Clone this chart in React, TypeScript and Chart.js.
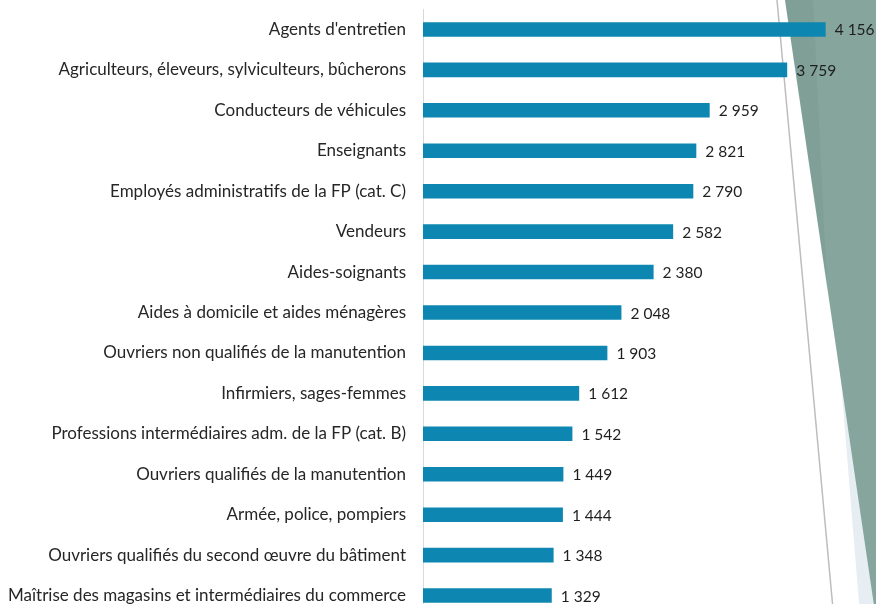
import React, { useEffect, useRef } from "react";
import { Chart, registerables } from "chart.js";

Chart.register(...registerables);

const categories = [
  "Agents d'entretien",
  "Agriculteurs, éleveurs, sylviculteurs, bûcherons",
  "Conducteurs de véhicules",
  "Enseignants",
  "Employés administratifs de la FP (cat. C)",
  "Vendeurs",
  "Aides-soignants",
  "Aides à domicile et aides ménagères",
  "Ouvriers non qualifiés de la manutention",
  "Infirmiers, sages-femmes",
  "Professions intermédiaires adm. de la FP (cat. B)",
  "Ouvriers qualifiés de la manutention",
  "Armée, police, pompiers",
  "Ouvriers qualifiés du second œuvre du bâtiment",
  "Maîtrise des magasins et intermédiaires du commerce",
];

const values = [4156, 3759, 2959, 2821, 2790, 2582, 2380, 2048, 1903, 1612, 1542, 1449, 1444, 1348, 1329];

const FONT = "Lato, 'Open Sans', sans-serif";
const TOP = -18;

const fmt = (v: number) => String(v).replace(/\B(?=(\d{3})+(?!\d))/g, " ");

const decoPlugin = {
  id: "deco",
  beforeDatasetsDraw(chart: any) {
    const ctx = chart.ctx;
    ctx.save();
    ctx.translate(0, -TOP);
    // light blue strip
    ctx.fillStyle = "#e6edf3";
    ctx.beginPath();
    ctx.moveTo(810, 0);
    ctx.lineTo(876, 0);
    ctx.lineTo(876, 640);
    ctx.lineTo(862, 640);
    ctx.closePath();
    ctx.fill();
    // green shape
    ctx.fillStyle = "#85a59d";
    ctx.beginPath();
    ctx.moveTo(785, 0);
    ctx.lineTo(876, 0);
    ctx.lineTo(876, 619);
    ctx.closePath();
    ctx.fill();
    // subtle darker wedge along the edge
    ctx.fillStyle = "rgba(95,130,121,0.14)";
    ctx.beginPath();
    ctx.moveTo(785, 0);
    ctx.lineTo(813, 0);
    ctx.lineTo(827, 289);
    ctx.closePath();
    ctx.fill();
    // gray line
    ctx.strokeStyle = "#bdbdbd";
    ctx.lineWidth = 1.5;
    ctx.beginPath();
    ctx.moveTo(777, 0);
    ctx.lineTo(834, 620);
    ctx.stroke();
    ctx.restore();
  },
  afterDatasetsDraw(chart: any) {
    const ctx = chart.ctx;
    const meta = chart.getDatasetMeta(0);
    ctx.save();
    ctx.font = `15.5px ${FONT}`;
    ctx.fillStyle = "#1f1f1f";
    ctx.textBaseline = "middle";
    ctx.textAlign = "left";
    meta.data.forEach((bar: any, i: number) => {
      ctx.fillText(fmt(values[i]), bar.x + 9, bar.y + 1);
    });
    ctx.restore();
  },
};

export default function App() {
  const ref = useRef<HTMLCanvasElement>(null);
  useEffect(() => {
    if (!ref.current) return;
    const chart = new Chart(ref.current, {
      type: "bar",
      data: {
        labels: categories,
        datasets: [
          {
            data: values,
            backgroundColor: "#0d87b1",
            borderWidth: 0,
            categoryPercentage: 1,
            barPercentage: 0.36,
          },
        ],
      },
      options: {
        indexAxis: "y",
        animation: false,
        responsive: false,
        maintainAspectRatio: false,
        layout: { padding: { top: 0, bottom: 0, left: 0, right: 17 } },
        plugins: { legend: { display: false }, tooltip: { enabled: false } },
        scales: {
          x: { display: false, min: 0, max: 4500 },
          y: {
            afterFit: (scale: any) => {
              scale.width = 423;
            },
            grid: { display: false, drawTicks: false },
            border: { display: true, color: "#d9d9d9", width: 1 },
            ticks: {
              padding: 17,
              color: "#262626",
              font: { family: FONT, size: 17 },
            },
          },
        },
      },
      plugins: [decoPlugin],
    });
    return () => chart.destroy();
  }, []);
  return (
    <div style={{ position: "fixed", left: 0, top: 0, width: 876, height: 604, overflow: "hidden", background: "#fff" }}>
      <canvas
        ref={ref}
        width={876}
        height={661}
        style={{ display: "block", position: "absolute", left: 0, top: TOP }}
      />
    </div>
  );
}
